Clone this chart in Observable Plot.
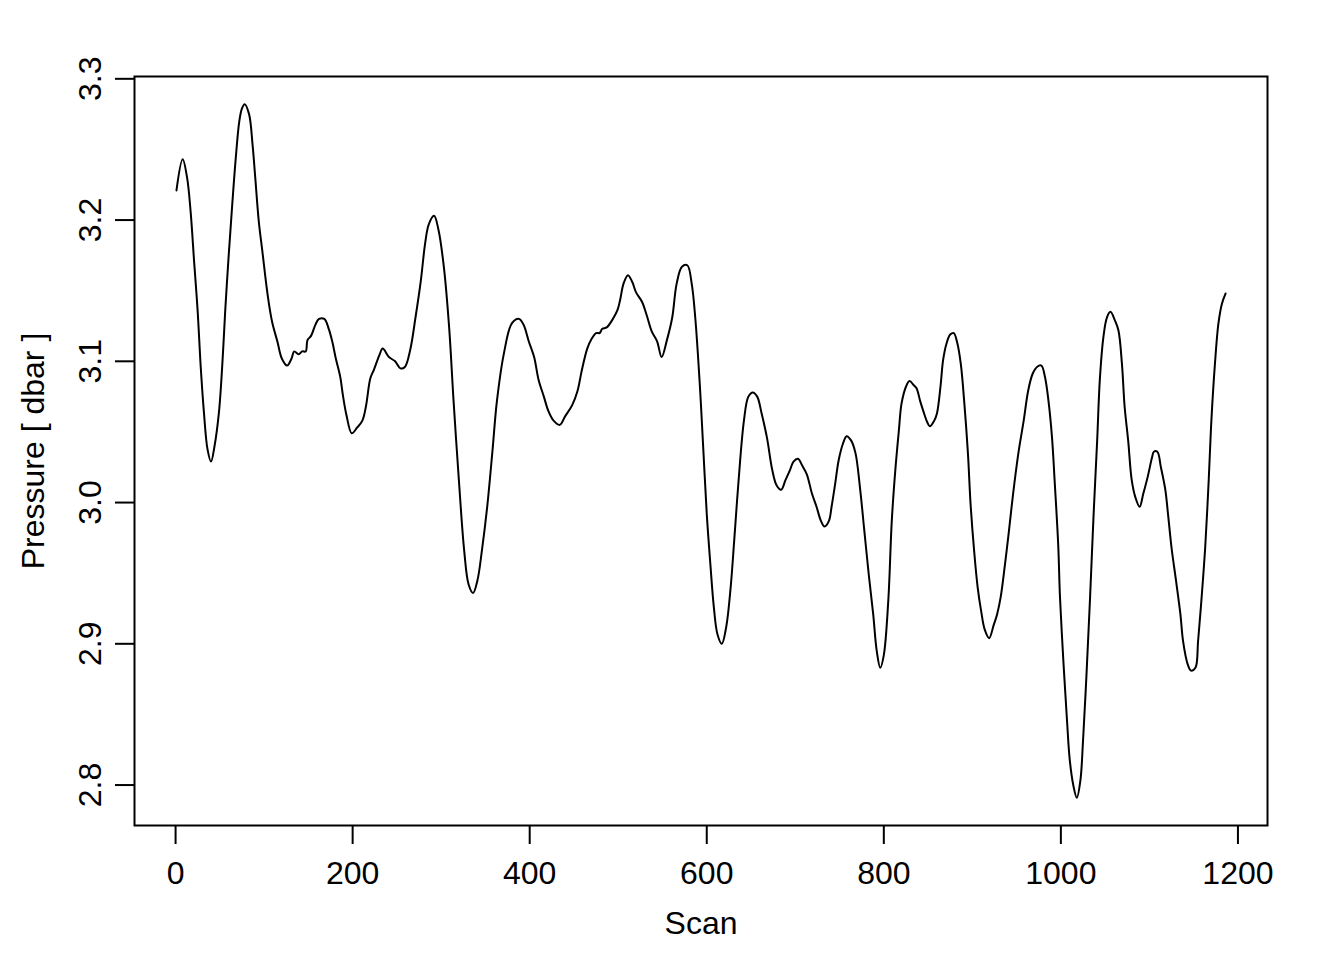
<!DOCTYPE html>
<html><head><meta charset="utf-8">
<script src="https://cdn.jsdelivr.net/npm/d3@7"></script>
<script src="https://cdn.jsdelivr.net/npm/@observablehq/plot@0.6"></script>
<style>body{margin:0;background:#fff}</style>
</head><body><div id="chart"></div>
<script>
const scan = [1,8,13,17,21,25,28,32,36,40,44,49,53,56,60,64,68,72,75,78,83,87,90,94,98,104,109,115,120,126,131,134,139,143,147,149,153,158,162,168,173,177,181,186,189,193,199,205,211,215,220,224,230,234,241,248,254,259,265,271,277,282,286,292,297,303,309,314,320,326,331,336,341,346,352,358,363,371,380,388,393,399,405,410,416,421,427,434,440,448,454,459,465,470,475,479,482,487,493,499,502,506,511,516,520,527,532,538,544,549,555,561,566,572,578,583,587,592,596,600,604,608,612,617,622,627,631,636,642,647,652,657,662,668,674,679,684,689,694,698,703,708,713,719,724,729,733,738,741,745,749,754,758,763,768,773,778,783,788,792,796,800,805,809,813,817,820,825,829,834,837,841,845,849,852,857,860,864,867,871,875,879,883,887,891,895,898,902,906,910,914,919,924,928,932,937,941,946,952,958,963,968,973,978,982,986,990,993,997,999,1003,1007,1010,1014,1018,1022,1025,1029,1033,1037,1041,1044,1048,1052,1056,1061,1065,1069,1072,1076,1080,1084,1089,1093,1098,1103,1105,1109,1113,1118,1121,1125,1130,1135,1138,1143,1147,1152,1155,1159,1163,1167,1170,1174,1178,1182,1186];
const pressure = [3.221,3.243,3.230,3.206,3.170,3.135,3.100,3.064,3.038,3.029,3.040,3.064,3.100,3.135,3.175,3.211,3.244,3.270,3.279,3.282,3.275,3.253,3.230,3.199,3.178,3.147,3.128,3.114,3.102,3.097,3.102,3.107,3.105,3.107,3.107,3.115,3.118,3.126,3.130,3.130,3.123,3.114,3.102,3.089,3.076,3.062,3.049,3.053,3.058,3.068,3.088,3.094,3.104,3.109,3.103,3.100,3.095,3.096,3.108,3.131,3.157,3.184,3.197,3.203,3.193,3.167,3.124,3.072,3.016,2.966,2.942,2.936,2.945,2.966,2.997,3.037,3.072,3.106,3.127,3.130,3.126,3.114,3.103,3.087,3.075,3.065,3.058,3.055,3.061,3.069,3.079,3.094,3.109,3.116,3.120,3.120,3.123,3.124,3.129,3.136,3.143,3.155,3.161,3.156,3.149,3.142,3.133,3.121,3.114,3.103,3.115,3.131,3.155,3.167,3.168,3.155,3.131,3.085,3.039,2.992,2.957,2.926,2.907,2.900,2.912,2.940,2.973,3.016,3.058,3.075,3.078,3.075,3.063,3.046,3.023,3.012,3.009,3.016,3.023,3.029,3.031,3.026,3.020,3.006,2.997,2.987,2.983,2.987,2.997,3.013,3.030,3.042,3.047,3.044,3.035,3.011,2.980,2.949,2.921,2.895,2.883,2.892,2.930,2.987,3.023,3.051,3.070,3.082,3.086,3.083,3.081,3.072,3.064,3.057,3.054,3.058,3.063,3.082,3.101,3.113,3.119,3.120,3.113,3.098,3.070,3.035,2.999,2.966,2.940,2.923,2.910,2.904,2.913,2.921,2.933,2.957,2.978,3.006,3.035,3.058,3.079,3.091,3.096,3.097,3.089,3.072,3.046,3.015,2.970,2.933,2.886,2.845,2.818,2.800,2.791,2.803,2.831,2.879,2.933,2.992,3.044,3.087,3.117,3.131,3.135,3.129,3.122,3.098,3.068,3.044,3.016,3.004,2.997,3.006,3.018,3.032,3.036,3.036,3.025,3.009,2.992,2.968,2.945,2.921,2.902,2.886,2.881,2.883,2.902,2.933,2.968,3.016,3.058,3.098,3.127,3.141,3.148];
const xTicks = [0, 200, 400, 600, 800, 1000, 1200];
const yTicks = [2.8, 2.9, 3.0, 3.1, 3.2, 3.3];
const xLabel = "Scan";
const yLabel = "Pressure [ dbar ]";

const data = scan.map((s, i) => ({scan: s, pressure: pressure[i]}));
const pad = (ext) => { const r = ext[1] - ext[0]; return [ext[0] - 0.04 * r, ext[1] + 0.04 * r]; };
const font = "'Liberation Sans', Arial, Helvetica, sans-serif";

const chart = Plot.plot({
  width: 1344, height: 960,
  marginLeft: 134, marginRight: 77, marginTop: 76, marginBottom: 135,
  style: {fontFamily: font, fontSize: "32px", background: "#fff", color: "#000"},
  x: {domain: pad(d3.extent(scan))},
  y: {domain: pad(d3.extent(pressure))},
  marks: [
    Plot.frame({stroke: "#000", strokeWidth: 2}),
    Plot.axisX({ticks: xTicks, tickSize: 19, tickPadding: 17, label: null, tickFormat: d3.format("d"), strokeWidth: 2, fontSize: 32}),
    Plot.axisY({ticks: yTicks, tickSize: 19, tickPadding: 15, tickRotate: -90, label: null, tickFormat: d3.format(".1f"), strokeWidth: 2, fontSize: 32}),
    Plot.line(data, {x: "scan", y: "pressure", stroke: "#000", strokeWidth: 2, curve: "catmull-rom"}),
    Plot.text([xLabel], {frameAnchor: "bottom", dy: 108, lineAnchor: "bottom", textAnchor: "middle", text: d => d, fontSize: 32}),
    Plot.text([yLabel], {frameAnchor: "left", dx: -91, rotate: -90, lineAnchor: "bottom", textAnchor: "middle", text: d => d, fontSize: 32})
  ]
});
document.getElementById("chart").appendChild(chart);
</script>
</body></html>
